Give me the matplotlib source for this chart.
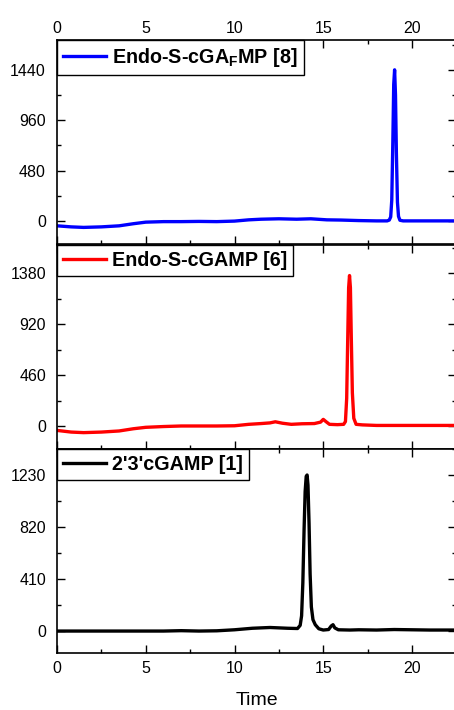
import matplotlib
matplotlib.use('Agg')
import matplotlib.pyplot as plt
import numpy as np
from matplotlib.ticker import MultipleLocator

plt.rcParams['font.family'] = ['Liberation Sans', 'DejaVu Sans']
plt.rcParams['mathtext.fontset'] = 'custom'
plt.rcParams['mathtext.rm'] = 'Liberation Sans'
plt.rcParams['mathtext.bf'] = 'Liberation Sans:bold'

# top trace: Endo-S-cGA_FMP [8]
t_blue = [0, 0.8, 1.5, 2.5, 3.5, 4.3, 5.0, 6, 7, 8, 9, 10, 10.8, 11.5, 12.5, 13.5, 14.3,
          15.2, 16, 17, 18, 18.6, 18.72, 18.8, 18.86, 18.92, 18.97, 19.02, 19.07, 19.12,
          19.18, 19.24, 19.32, 19.5, 20, 21, 22, 22.5]
y_blue = [-45, -55, -60, -55, -45, -25, -10, -5, -5, -3, -5, 0, 12, 18, 22, 18, 22,
          12, 10, 5, 2, 2, 10, 40, 200, 750, 1300, 1440, 1200, 650,
          180, 45, 8, 2, 2, 2, 2, 2]

# middle trace: Endo-S-cGAMP [6]
t_red = [0, 0.8, 1.5, 2.5, 3.5, 4.3, 5.0, 6, 7, 8, 9, 10, 10.8, 11.5, 12.0, 12.3, 12.7,
         13.2, 13.8, 14.5, 14.85, 15.0, 15.15, 15.35, 15.8, 16.15, 16.25, 16.32, 16.38,
         16.43, 16.48, 16.53, 16.58, 16.64, 16.72, 16.85, 17.2, 18, 19, 20, 21, 22.5]
y_red = [-40, -55, -60, -55, -45, -25, -12, -5, 0, 0, 0, 2, 15, 22, 28, 38, 25,
         15, 20, 22, 35, 60, 40, 15, 12, 15, 40, 250, 800,
         1250, 1360, 1250, 800, 300, 70, 15, 10, 5, 5, 5, 5, 5]

# bottom trace: 2'3'cGAMP [1]
t_black = [0, 2, 4, 6, 7, 8, 9, 10, 11, 12, 13, 13.55, 13.7, 13.78, 13.85, 13.92,
           13.98, 14.04, 14.09, 14.14, 14.2, 14.26, 14.33, 14.42, 14.55, 14.75, 15.0,
           15.3, 15.45, 15.55, 15.65, 15.85, 16.5, 17, 18, 19, 20, 21, 22.5]
y_black = [0, 0, 0, 0, 3, 0, 2, 10, 22, 28, 22, 20, 45, 120, 380, 800,
           1100, 1220, 1230, 1150, 850, 450, 190, 90, 50, 18, 8,
           12, 40, 50, 25, 10, 8, 10, 8, 12, 10, 8, 8]

series = [
    (t_blue, y_blue, 'blue', r'Endo-S-cGA$_\mathbf{F}$MP [8]', 480, (-218, 1724)),
    (t_red, y_red, 'red', 'Endo-S-cGAMP [6]', 460, (-208, 1636)),
    (t_black, y_black, 'black', "2'3'cGAMP [1]", 410, (-173, 1435)),
]

fig = plt.figure(figsize=(4.54, 7.10), dpi=100)
W, H = 454.0, 710.0
left = 57 / W
right = (57 + 22.5 * 17.75) / W
tops = [40, 245, 449]
ph = 204

for i, (tx, ty, col, lab, step, yl) in enumerate(series):
    top = tops[i]
    ax = fig.add_axes([left, 1 - (top + ph) / H, right - left, ph / H])
    ax.plot(tx, ty, color=col, lw=2.4, label=lab, solid_joinstyle='round')
    ax.set_xlim(0, 22.5)
    ax.set_ylim(*yl)
    ax.xaxis.set_major_locator(MultipleLocator(5))
    ax.xaxis.set_minor_locator(MultipleLocator(2.5))
    ax.yaxis.set_major_locator(MultipleLocator(step))
    ax.yaxis.set_minor_locator(MultipleLocator(step / 2))
    ax.tick_params(which='both', direction='in', top=True, right=True,
                   labelsize=11.5, width=1)
    ax.tick_params(which='major', length=6)
    ax.tick_params(which='minor', length=3)
    ax.tick_params(axis='y', labelright=False, pad=8)
    if i == 0:
        ax.tick_params(axis='x', labeltop=True, labelbottom=False, pad=3)
    elif i == 1:
        ax.tick_params(axis='x', labeltop=False, labelbottom=False)
    else:
        ax.tick_params(axis='x', labelbottom=True, pad=6)
        ax.set_xlabel('Time', fontsize=14, labelpad=11)
    for s in ax.spines.values():
        s.set_linewidth(1.2)
    leg = ax.legend(loc='upper left', borderaxespad=0, fancybox=False,
                    prop={'weight': 'bold', 'size': 14.2}, handlelength=2.2,
                    handletextpad=0.3, borderpad=0.3, framealpha=1)
    leg.get_frame().set_edgecolor('black')
    leg.get_frame().set_linewidth(1)

fig.savefig('out.png', dpi=100)
